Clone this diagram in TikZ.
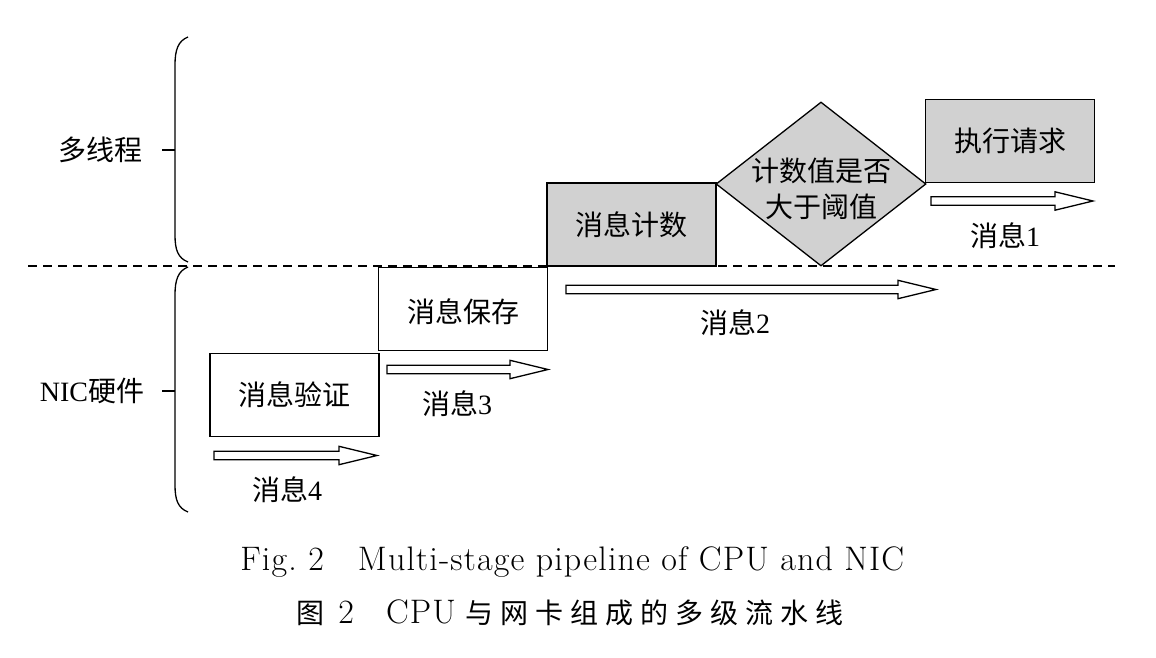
\documentclass[tikz,border=0pt]{standalone}
\usepackage{fontspec}
\setmainfont{Liberation Serif}
\newfontfamily\cjk{Noto Sans CJK SC}
\newfontfamily\lmr[LetterSpace=3.4]{Latin Modern Roman}
\usetikzlibrary{shapes.geometric}
\def\blockarrow(#1,#2)(#3){\draw[line width=0.65pt] (#1,#2) ++(0,-4.2) -- ++(#3-38,0) -- ++(0,-5) -- ++(38,9.2) -- ++(-38,9.2) -- ++(0,-5) -- ++(-#3+38,0) -- cycle;}
\def\sp{\kern3.5pt}

\begin{document}
\begin{tikzpicture}[x=0.5pt,y=-0.5pt,
	stagebox/.style={draw,line width=0.65pt,minimum width=84.5pt,minimum height=41.5pt,inner sep=0pt},
	decision/.style={diamond,draw,line width=0.65pt,fill=black!18,minimum width=105pt,minimum height=82pt,inner sep=0pt},
	txt/.style={font=\fontsize{14}{17}\selectfont\cjk,inner sep=0pt},
	captxt/.style={font=\fontsize{17}{19}\selectfont\lmr,inner sep=0pt,anchor=west}]
		%%%%% START %%%%%
		\useasboundingbox (0,0) rectangle (1156,658);
		
		\draw[line width=0.65pt, dash pattern=on 4.5pt off 3pt] (28,266) -- (1115,266);
		
		% braces
		\draw[line width=0.65pt] (188,37) .. controls (178,41) and (175,50) .. (175,65) -- (175,235) .. controls (175,250) and (178,258) .. (188,262);
		\draw[line width=0.65pt] (162,150) -- (175,150);
		\draw[line width=0.65pt] (188,267) .. controls (178,271) and (175,280) .. (175,295) -- (175,485) .. controls (175,500) and (178,508) .. (188,512);
		\draw[line width=0.65pt] (162,391) -- (175,391);
		\node[txt] (cpu) at (100,150) {多线程};
		\node[txt] (nic) at (92,391) {\rmfamily NIC{\cjk 硬件}};
		
		% stages
		\node[stagebox] (verify) at (294.5,395) {};
		\node[txt] at (verify) {消息验证};
		\node[stagebox] (save) at (463,309) {};
		\node[txt] at (463,312) {消息保存};
		\node[stagebox, fill=black!18] (count) at (631.5,224.5) {};
		\node[txt] at (count) {消息计数};
		\node[decision] (check) at (821,184) {};
		\node[txt, align=center] at (821,189) {计数值是否\\[1pt]大于阈值};
		\node[stagebox, fill=black!18] (exec) at (1010,141) {};
		\node[txt] at (exec) {执行请求};
		
		% messages
		\blockarrow(214,455.5)(163);
		\node[txt] (msg4) at (287,490) {消息\rmfamily 4};
		\blockarrow(387,369.5)(161);
		\node[txt] (msg3) at (457,404) {消息\rmfamily 3};
		\blockarrow(566,289.5)(370);
		\node[txt] (msg2) at (735,323) {消息\rmfamily 2};
		\blockarrow(931,201)(162);
		\node[txt] (msg1) at (1005,236) {消息\rmfamily 1};
		
		% caption
		\node[captxt] (capen) at (240,562) {Fig.\ 2\quad Multi-stage pipeline of CPU and NIC};
		\node[captxt] (capzh) at (296,613) {{\fontsize{14}{17}\selectfont\cjk 图}\hspace{7pt}2\hspace{16pt}CPU\hspace{5pt}{\fontsize{14}{17}\selectfont\cjk 与\sp 网\sp 卡\sp 组\sp 成\sp 的\sp 多\sp 级\sp 流\sp 水\sp 线}};
		
		%%%%% END %%%%%
\end{tikzpicture}
\end{document}
